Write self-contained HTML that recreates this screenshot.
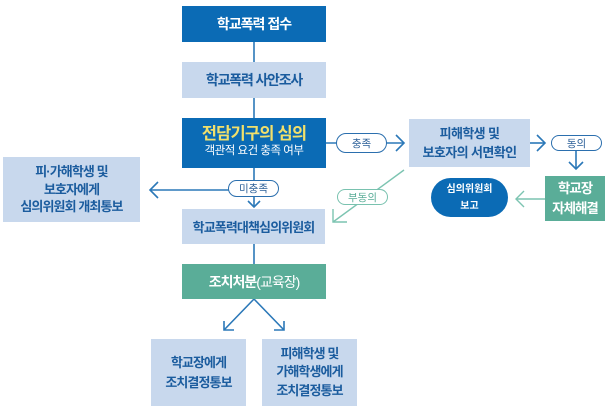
<!DOCTYPE html>
<html><head><meta charset="utf-8">
<style>
html,body{margin:0;padding:0;background:#fff;}
body{width:612px;height:413px;position:relative;overflow:hidden;font-family:"Liberation Sans","Noto Sans CJK KR",sans-serif;}
.b{position:absolute;display:flex;flex-direction:column;align-items:center;justify-content:center;text-align:center;font-weight:bold;box-sizing:border-box;}
.dk{background:#0b6bb5;color:#fff;}
.lt{background:#c8d8ed;color:#1b5c9e;}
.gr{background:#5aad98;color:#fff;}
.p{position:absolute;display:flex;align-items:center;justify-content:center;background:#fff;box-sizing:border-box;font-size:10.5px;border-radius:11px;font-weight:normal;}
.pb{border:1.3px solid #2b6fae;color:#2b5f98;}
.pg{border:1.3px solid #79c2af;color:#5aad98;}
svg{position:absolute;left:0;top:0;}
</style></head><body>
<svg width="612" height="413" viewBox="0 0 612 413">
 <g stroke="#2b78b8" stroke-width="1.6" fill="none">
  <line x1="254" y1="42" x2="254" y2="62"/>
  <line x1="254" y1="98" x2="254" y2="118"/>
  <line x1="254" y1="168" x2="254" y2="207"/>
  <polyline points="248,201 254,207 260,201"/>
  <line x1="254" y1="190" x2="151" y2="190"/>
  <polyline points="158,182 150,190 158,198"/>
  <line x1="254" y1="244" x2="254" y2="264"/>
  <line x1="326" y1="143" x2="404" y2="143"/>
  <polyline points="396,135 404,143 396,151"/>
  <line x1="530" y1="143" x2="545" y2="143"/>
  <polyline points="537,135 545,143 537,151"/>
  <line x1="576" y1="150" x2="576" y2="169"/>
  <polyline points="569,162 576,169 583,162"/>
  <line x1="254" y1="299" x2="224" y2="330"/>
  <polyline points="224,321 224,330 234,330"/>
  <line x1="254" y1="299" x2="284" y2="330"/>
  <polyline points="284,321 284,330 274,330"/>
 </g>
 <g stroke="#7cc4b1" stroke-width="1.4" fill="none">
  <line x1="404" y1="170" x2="333" y2="222"/>
  <polyline points="333,209 333,222 347,222"/>
  <line x1="545" y1="199" x2="516" y2="199"/>
  <polyline points="524,191 516,199 524,207"/>
 </g>
</svg>

<div class="b dk" style="left:182px;top:6px;width:144px;height:36px;font-size:14px;letter-spacing:-1px;">학교폭력 접수</div>
<div class="b lt" style="left:182px;top:62px;width:144px;height:36px;font-size:14px;letter-spacing:-1.2px;">학교폭력 사안조사</div>
<div class="b dk" style="left:182px;top:118px;width:144px;height:50px;">
 <div style="color:#f2e06b;font-size:16.5px;letter-spacing:-0.8px;line-height:19px;margin-top:-2px;">전담기구의 심의</div>
 <div style="font-size:11.5px;font-weight:normal;letter-spacing:-0.5px;line-height:15px;">객관적 요건 충족 여부</div>
</div>
<div class="b lt" style="left:409px;top:119px;width:121px;height:48px;font-size:13px;letter-spacing:-0.6px;line-height:19.5px;">피해학생 및<br>보호자의 서면확인</div>
<div class="b gr" style="left:545px;top:176px;width:60px;height:45px;font-size:13.5px;letter-spacing:-1px;line-height:20px;">학교장<br>자체해결</div>
<div class="b dk" style="left:431px;top:178px;width:77px;height:39px;border-radius:20px;font-size:10px;line-height:17px;">심의위원회<br>보고</div>
<div class="b lt" style="left:3px;top:157px;width:137px;height:65px;font-size:13px;letter-spacing:-0.9px;line-height:17.7px;">피·가해학생 및<br>보호자에게<br>심의위원회 개최통보</div>
<div class="b lt" style="left:182px;top:209px;width:143px;height:35px;font-size:13px;letter-spacing:-0.9px;">학교폭력대책심의위원회</div>
<div class="b gr" style="left:182px;top:264px;width:144px;height:35px;font-size:14px;letter-spacing:-1px;font-weight:normal;"><span><b>조치처분</b>(교육장)</span></div>
<div class="b lt" style="left:151px;top:339px;width:95px;height:67px;font-size:13px;letter-spacing:-0.9px;line-height:19.5px;">학교장에게<br>조치결정통보</div>
<div class="b lt" style="left:262px;top:339px;width:95px;height:67px;font-size:13px;letter-spacing:-0.9px;line-height:18.3px;">피해학생 및<br>가해학생에게<br>조치결정통보</div>

<div class="p pb" style="left:336px;top:133px;width:51px;height:20px;">충족</div>
<div class="p pb" style="left:551px;top:135px;width:51px;height:16px;">동의</div>
<div class="p pb" style="left:228px;top:180px;width:51px;height:17px;">미충족</div>
<div class="p pg" style="left:337px;top:189px;width:51px;height:16px;">부동의</div>
</body></html>
